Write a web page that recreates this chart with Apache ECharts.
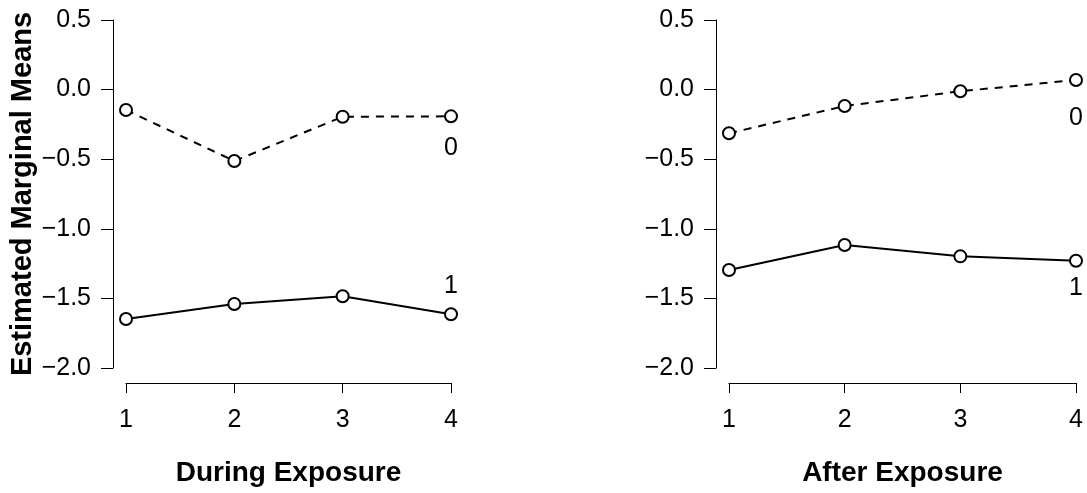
<!DOCTYPE html>
<html>
<head>
<meta charset="utf-8">
<script src="https://cdn.jsdelivr.net/npm/echarts@6/dist/echarts.min.js"></script>
<style>
html,body{margin:0;padding:0;background:#fff;}
#chart{width:1087px;height:493px;}
</style>
</head>
<body>
<div id="chart"></div>
<script>
// ---- data ----
var timePoints = [1, 2, 3, 4];
var panelTitles = ['During Exposure', 'After Exposure'];
var yAxisTitle = 'Estimated Marginal Means';
var groupNames = ['0', '1'];
var duringGroup0 = [-0.147, -0.513, -0.195, -0.192];
var duringGroup1 = [-1.648, -1.540, -1.485, -1.614];
var afterGroup0 = [-0.314, -0.118, -0.012, 0.069];
var afterGroup1 = [-1.296, -1.116, -1.198, -1.229];
var yTicks = [-2.0, -1.5, -1.0, -0.5, 0.0, 0.5];

var FONT = 'Liberation Sans, Arial, Helvetica, sans-serif';

function fmtY(v) {
  var s = Math.abs(v).toFixed(1);
  return (v < -1e-9 ? '\u2212' : '') + s;
}

function makeSeries(vals, gridIdx, name, dashed, labelOffset) {
  var last = vals.length - 1;
  return {
    type: 'line',
    name: name,
    xAxisIndex: gridIdx,
    yAxisIndex: gridIdx,
    data: vals.map(function (v, i) { return [timePoints[i], v]; }),
    symbol: 'circle',
    symbolSize: 12,
    showAllSymbol: true,
    clip: false,
    z: 3,
    itemStyle: { color: '#ffffff', borderColor: '#000000', borderWidth: 2 },
    lineStyle: { color: '#000000', width: 2, type: dashed ? [8, 7] : 'solid' },
    label: {
      show: true,
      position: 'inside',
      offset: labelOffset,
      color: '#000',
      fontFamily: FONT,
      fontSize: 25,
      formatter: function (p) { return p.dataIndex === last ? name : ''; }
    },
    emphasis: { disabled: true },
    animation: false
  };
}

function xAxisCfg(gridIdx) {
  return {
    type: 'value', gridIndex: gridIdx,
    min: 1, max: 4, interval: 1,
    position: 'bottom', offset: 15,
    axisLine: { show: true, onZero: false, lineStyle: { color: '#000', width: 1 } },
    axisTick: { show: true, length: 10, lineStyle: { color: '#000', width: 1 } },
    axisLabel: { color: '#000', fontFamily: FONT, fontSize: 25, margin: 25,
      formatter: function (v) { return String(v); } },
    splitLine: { show: false },
    name: panelTitles[gridIdx], nameLocation: 'middle', nameGap: 76,
    nameTextStyle: { color: '#000', fontFamily: FONT, fontSize: 28, fontWeight: 'bold' }
  };
}

function yAxisCfg(gridIdx) {
  var cfg = {
    type: 'value', gridIndex: gridIdx,
    min: yTicks[0], max: yTicks[yTicks.length - 1], interval: 0.5,
    position: 'left', offset: 13,
    axisLine: { show: true, onZero: false, lineStyle: { color: '#000', width: 1 } },
    axisTick: { show: true, length: 12, lineStyle: { color: '#000', width: 1 } },
    axisLabel: { color: '#000', fontFamily: FONT, fontSize: 25, margin: 22, formatter: fmtY },
    splitLine: { show: false }
  };
  if (gridIdx === 0) {
    cfg.name = yAxisTitle;
    cfg.nameLocation = 'middle';
    cfg.nameGap = 76;
    cfg.nameTextStyle = { color: '#000', fontFamily: FONT, fontSize: 29, fontWeight: 'bold' };
  }
  return cfg;
}

var chart = echarts.init(document.getElementById('chart'), null, { renderer: 'canvas' });
chart.setOption({
  backgroundColor: '#ffffff',
  animation: false,
  grid: [
    { left: 126, width: 325, top: 20, height: 348 },
    { left: 729, width: 347, top: 20, height: 348 }
  ],
  xAxis: [xAxisCfg(0), xAxisCfg(1)],
  yAxis: [yAxisCfg(0), yAxisCfg(1)],
  series: [
    makeSeries(duringGroup0, 0, groupNames[0], true, [0, 32]),
    makeSeries(duringGroup1, 0, groupNames[1], false, [0, -28]),
    makeSeries(afterGroup0, 1, groupNames[0], true, [0, 38]),
    makeSeries(afterGroup1, 1, groupNames[1], false, [0, 27])
  ]
});
</script>
</body>
</html>
